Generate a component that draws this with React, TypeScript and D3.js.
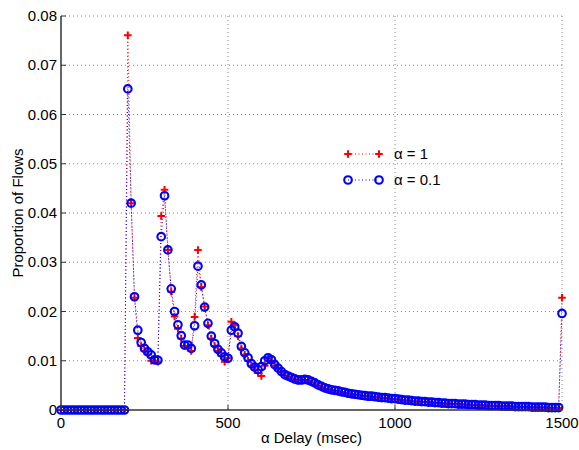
import React from "react";
import * as d3 from "d3";

const delays: number[] = d3.range(0, 1501, 10);

const blueValues: number[] = [
  0, 0, 0, 0, 0, 0, 0, 0, 0, 0, 0, 0, 0, 0, 0, 0, 0, 0, 0, 0,
  0.0652, 0.0420, 0.0230, 0.0162, 0.0137, 0.0125, 0.0118, 0.0112, 0.0102, 0.0101,
  0.0352, 0.0435, 0.0325, 0.0246, 0.0200, 0.0173, 0.0151, 0.0132, 0.0132, 0.0125,
  0.0171, 0.0292, 0.0254, 0.0209, 0.0176, 0.0150, 0.0135, 0.0123, 0.0116, 0.0108,
  0.0105, 0.0162, 0.0169, 0.0156, 0.0129, 0.0116, 0.0106, 0.0094, 0.0087, 0.0082,
  0.0088, 0.0100, 0.0106, 0.0102, 0.0092, 0.0085, 0.0078, 0.0072, 0.0069, 0.0066,
  0.0063, 0.0061, 0.0061, 0.0062, 0.0061, 0.0058, 0.0055, 0.0051, 0.0048, 0.0045,
  0.0043, 0.0041, 0.0040, 0.0039, 0.0037, 0.0036, 0.0034, 0.0033, 0.0032, 0.0031,
  0.0030, 0.0029, 0.0028, 0.0028, 0.0027, 0.0026, 0.0025, 0.0025, 0.0024, 0.0023,
  0.0023, 0.0022, 0.0021, 0.0020, 0.0020, 0.0019, 0.0018, 0.0018, 0.0017, 0.0017,
  0.0016, 0.0016, 0.0015, 0.0015, 0.0014, 0.0014, 0.0013, 0.0013, 0.0013, 0.0012,
  0.0012, 0.0012, 0.0011, 0.0011, 0.0011, 0.0010, 0.0010, 0.0010, 0.0009, 0.0009,
  0.0009, 0.0009, 0.0008, 0.0008, 0.0008, 0.0008, 0.0007, 0.0007, 0.0007, 0.0007,
  0.0007, 0.0006, 0.0006, 0.0006, 0.0006, 0.0006, 0.0005, 0.0005, 0.0005, 0.0005,
  0.0196,
];

const redValues: number[] = [
  0, 0, 0, 0, 0, 0, 0, 0, 0, 0, 0, 0, 0, 0, 0, 0, 0, 0, 0, 0,
  0.0761, 0.0420, 0.0228, 0.0146, 0.0130, 0.0120, 0.0113, 0.0100, 0.0100, 0.0098,
  0.0394, 0.0447, 0.0325, 0.0240, 0.0190, 0.0165, 0.0145, 0.0130, 0.0128, 0.0120,
  0.0189, 0.0325, 0.0250, 0.0210, 0.0172, 0.0145, 0.0130, 0.0120, 0.0110, 0.0098,
  0.0105, 0.0179, 0.0172, 0.0150, 0.0125, 0.0112, 0.0100, 0.0090, 0.0082, 0.0075,
  0.0069, 0.0090, 0.0105, 0.0100, 0.0090, 0.0082, 0.0076, 0.0070, 0.0067, 0.0064,
  0.0062, 0.0060, 0.0060, 0.0061, 0.0059, 0.0056, 0.0052, 0.0049, 0.0046, 0.0043,
  0.0041, 0.0040, 0.0038, 0.0037, 0.0036, 0.0034, 0.0033, 0.0031, 0.0031, 0.0030,
  0.0029, 0.0028, 0.0027, 0.0027, 0.0026, 0.0025, 0.0024, 0.0024, 0.0023, 0.0022,
  0.0022, 0.0021, 0.0020, 0.0019, 0.0019, 0.0018, 0.0017, 0.0017, 0.0016, 0.0016,
  0.0015, 0.0015, 0.0014, 0.0014, 0.0013, 0.0013, 0.0012, 0.0012, 0.0012, 0.0011,
  0.0011, 0.0011, 0.0010, 0.0010, 0.0010, 0.0009, 0.0009, 0.0009, 0.0008, 0.0008,
  0.0008, 0.0008, 0.0007, 0.0007, 0.0007, 0.0007, 0.0006, 0.0006, 0.0006, 0.0006,
  0.0006, 0.0005, 0.0005, 0.0005, 0.0005, 0.0005, 0.0004, 0.0004, 0.0004, 0.0004,
  0.0228,
];

const xTicks: number[] = [0, 500, 1000, 1500];
const yTicks: number[] = [0, 0.01, 0.02, 0.03, 0.04, 0.05, 0.06, 0.07, 0.08];
const yTickLabels: string[] = ["0", "0.01", "0.02", "0.03", "0.04", "0.05", "0.06", "0.07", "0.08"];
const legendLabels: string[] = ["\u03B1 = 1", "\u03B1 = 0.1"];

const W = 579;
const H = 450;
const left = 61;
const right = 562;
const top = 16;
const bottom = 410;
const font = "'Liberation Sans', Arial, Helvetica, sans-serif";

export default function App() {
  const x = d3.scaleLinear().domain([0, 1500]).range([left, right]);
  const y = d3.scaleLinear().domain([0, 0.08]).range([bottom, top]);

  const blueData = delays.map((d, i) => [d, blueValues[i]] as [number, number]);
  const redData = delays.map((d, i) => [d, redValues[i]] as [number, number]);
  const line = d3
    .line<[number, number]>()
    .x((d) => x(d[0]))
    .y((d) => y(d[1]));

  const plus = (cx: number, cy: number, key: string | number) => (
    <path
      key={key}
      d={`M${cx - 3.8},${cy}H${cx + 3.8}M${cx},${cy - 3.8}V${cy + 3.8}`}
      stroke="#ff0000"
      strokeWidth={2}
      fill="none"
    />
  );
  const circ = (cx: number, cy: number, key: string | number) => (
    <circle key={key} cx={cx} cy={cy} r={3.8} stroke="#0000ff" strokeWidth={2.1} fill="none" />
  );

  return (
    <svg
      width={W}
      height={H}
      style={{ position: "absolute", left: 0, top: 0, background: "#fff" }}
      fontFamily={font}
    >
      <rect x={0} y={0} width={W} height={H} fill="#fff" />
      {/* grid */}
      {yTicks.slice(1).map((t) => (
        <line
          key={"gy" + t}
          x1={left}
          x2={right}
          y1={y(t)}
          y2={y(t)}
          stroke="#888"
          strokeWidth={1}
          strokeDasharray="1,3"
        />
      ))}
      {xTicks.slice(1).map((t) => (
        <line
          key={"gx" + t}
          x1={x(t)}
          x2={x(t)}
          y1={top}
          y2={bottom}
          stroke="#888"
          strokeWidth={1}
          strokeDasharray="1,3"
        />
      ))}
      {/* red series (drawn first) */}
      <path d={line(redData) || ""} fill="none" stroke="#ff0000" strokeWidth={1} strokeDasharray="1,2.5" />
      {redData.map((d, i) => plus(x(d[0]), y(d[1]), "r" + i))}
      {/* blue series (on top) */}
      <path d={line(blueData) || ""} fill="none" stroke="#0000ff" strokeWidth={1} strokeDasharray="1,2.5" />
      {blueData.map((d, i) => circ(x(d[0]), y(d[1]), "b" + i))}
      {/* axes */}
      <line x1={left} x2={left} y1={top} y2={bottom} stroke="#333" strokeWidth={1.5} />
      <line x1={left} x2={right} y1={bottom} y2={bottom} stroke="#333" strokeWidth={1.5} />
      {yTicks.map((t, i) => (
        <g key={"yt" + t}>
          <line x1={left} x2={left + 5} y1={y(t)} y2={y(t)} stroke="#333" strokeWidth={1} />
          <text x={left - 4} y={y(t) + 5} textAnchor="end" fontSize={15} fill="#000">
            {yTickLabels[i]}
          </text>
        </g>
      ))}
      {xTicks.map((t) => (
        <g key={"xt" + t}>
          <line x1={x(t)} x2={x(t)} y1={bottom} y2={bottom - 5} stroke="#333" strokeWidth={1} />
          <text x={x(t)} y={bottom + 18} textAnchor="middle" fontSize={15} fill="#000">
            {t}
          </text>
        </g>
      ))}
      <text x={(left + right) / 2} y={443} textAnchor="middle" fontSize={15} fill="#000">
        {"\u03B1 Delay (msec)"}
      </text>
      <text
        transform={`translate(23, ${(top + bottom) / 2}) rotate(-90)`}
        textAnchor="middle"
        fontSize={15}
        fill="#000"
      >
        Proportion of Flows
      </text>
      {/* legend */}
      <g>
        <line x1={348} x2={379} y1={154} y2={154} stroke="#ff0000" strokeWidth={1} strokeDasharray="1,2.5" />
        {plus(348, 154, "lp1")}
        {plus(379, 154, "lp2")}
        <text x={394} y={159} fontSize={15} fill="#000">
          {legendLabels[0]}
        </text>
        <line x1={348} x2={379} y1={180} y2={180} stroke="#0000ff" strokeWidth={1} strokeDasharray="1,2.5" />
        {circ(348, 180, "lc1")}
        {circ(379, 180, "lc2")}
        <text x={394} y={185} fontSize={15} fill="#000">
          {legendLabels[1]}
        </text>
      </g>
    </svg>
  );
}
